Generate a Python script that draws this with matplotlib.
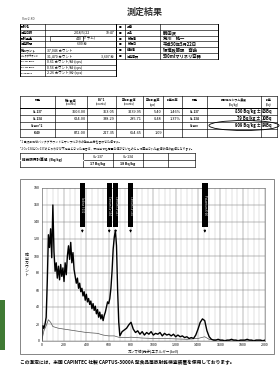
import matplotlib
matplotlib.use("Agg")
import matplotlib.pyplot as plt
from matplotlib.patches import Rectangle, Ellipse

plt.rcParams['font.family'] = ['Noto Sans CJK JP', 'DejaVu Sans']

# ---- data ----
info_labels = ["試料名", "測定日時", "試料重量", "測定時間", "総カウント", "バックグラウンド",
               "Cs-137 BG*1", "Cs-134 BG*1", "K-40 BG*1"]
info_values = ["", "2018/5/22", "440", "600 秒", "37,046 カウント", "31,470 カウント",
               "0.61 カウント/秒 (cps)", "0.56 カウント/秒 (cps)", "2.26 カウント/秒 (cps)"]
client_labels = ["品番", "品名", "依頼者", "依頼日", "担当者", "測定容器"]
client_values = ["", "鶴田沢", "荒川　純一", "平成30年5月22日", "環境政策課　齋藤", "500mlマリネリ容器"]

result_headers = [("核種", ""), ("総計数値", "(counts)"), ("BG*1", "(counts)"),
                  ("正味計数値", "(counts)"), ("正味計数率", "(cps)"), ("誤差比率", ""),
                  ("核種", ""), ("放射性セシウム濃度", "(Bq/kg)"), ("誤差", "(Bq)")]
nuclides = ["Cs-137", "Cs-134", "Cs合計*2", "K-40"]
total_counts = ["3603.00", "624.00", "", "872.00"]
bg_counts = ["363.05", "338.29", "", "217.35"]
net_counts = ["3239.95", "285.71", "", "654.65"]
net_rate = ["5.40", "0.48", "", "1.09"]
err_ratio = ["1.46%", "1.37%", "", ""]
conc_nuclide = ["Cs-137", "Cs-134", "Cs合計", ""]
conc_values = ["830 Bq/kg ±", "79 Bq/kg ±", "909 Bq/kg ±", ""]
conc_errors = ["83Bq", "10Bq", "84Bq", ""]

limit_nuclides = ["Cs-137", "Cs-134"]
limit_values = ["17 Bq/kg", "18 Bq/kg"]

sample_kev = list(range(0, 701, 10)) + list(range(720, 2001, 20))
sample_cnt = [0, 18, 15, 20, 28, 70, 125, 110, 132, 98, 160, 105, 82, 92, 74, 88, 72, 90, 76, 86,
              70, 92, 78, 100, 112, 96, 116, 92, 104, 84, 76, 68, 74, 62, 68, 58, 62, 53, 58, 48,
              55, 46, 50, 43, 47, 38, 44, 36, 41, 32, 37, 28, 34, 26, 31, 24, 30, 34, 40, 46,
              44, 50, 62, 82, 108, 122, 130, 112, 60, 22, 6,
              11, 13, 15, 19, 22, 14, 10, 12, 8, 11, 7, 10, 8, 11, 7, 9, 8, 10, 6, 9,
              7, 8, 6, 8, 5, 7, 5, 6, 4, 5, 3, 4, 3, 7, 14, 22, 26, 24, 12, 5,
              2, 1, 1, 2, 1, 1, 0, 1, 1, 2, 1, 1, 0, 1, 1, 1, 2, 1, 1, 0,
              1, 1, 1, 0, 1]
bg_kev = [0, 20, 40, 60, 80, 100, 150, 200, 250, 300, 350, 400, 450, 500, 550, 600, 650, 700,
          750, 800, 900, 1000, 1100, 1200, 1300, 1400, 1460, 1500, 1600, 1800, 2000]
bg_cnt = [0, 12, 18, 25, 22, 17, 15, 14, 13, 12, 11, 10, 9.5, 9, 7, 6, 6, 4,
          4, 4.5, 3.5, 3, 3, 2.5, 2, 3, 5, 2, 1, 1, 1]

marker_kev = [364, 605, 662, 796, 1461]
marker_names = ["Iodine I-131", "Cesium Cs-134", "Cesium Cs-137", "Cesium Cs-134", "Potassium K-40"]

FS = 2.5

fig = plt.figure(figsize=(2.8, 3.74), dpi=100)
page = fig.add_axes([0, 0, 1, 1])
page.set_xlim(0, 280)
page.set_ylim(374, 0)
page.axis("off")


def grid_box(xs, ys, lw=0.45):
    for x in xs:
        page.plot([x, x], [ys[0], ys[-1]], color="black", lw=lw)
    for y in ys:
        page.plot([xs[0], xs[-1]], [y, y], color="black", lw=lw)


page.text(145, 12, "測定結果", ha="center", va="center", fontsize=6.5, fontweight="bold",
          color="#333333")
page.text(22, 19, "Ver2.80", ha="left", va="center", fontsize=2.6, color="#444444")

# top-left table
row_h = 5.8
ys = [24 + row_h * i for i in range(10)]
grid_box([20, 45, 116], ys[:7])
grid_box([20, 45, 116], ys[6:])
page.plot([20, 20], [ys[0], ys[-1]], color="black", lw=0.7)
page.plot([116, 116], [ys[0], ys[-1]], color="black", lw=0.7)
for i, (lab, val) in enumerate(zip(info_labels, info_values)):
    yc = (ys[i] + ys[i + 1]) / 2
    lfs = 1.6 if len(lab) > 6 else 2.2
    page.text(21.2, yc, lab, ha="left", va="center", fontsize=lfs, fontweight="bold")
    if i in (1, 2, 3):
        page.text(82, yc, val, ha="right" if i == 2 else "center", va="center", fontsize=FS)
    else:
        page.text(47, yc, val, ha="left", va="center", fontsize=FS)
page.text(114, (ys[1] + ys[2]) / 2, "10:47", ha="right", va="center", fontsize=FS)
page.text(83, (ys[2] + ys[3]) / 2, "(グラム)", ha="left", va="center", fontsize=FS)
page.add_patch(Rectangle((50, ys[2] + 0.6), 33, row_h - 1.2, fill=False, lw=0.4))
page.text(114, (ys[5] + ys[6]) / 2, "3,607 秒", ha="right", va="center", fontsize=FS)

# top-right table
grid_box([116, 125, 160, 218], ys[:7])
page.plot([218, 218], [ys[0], ys[6]], color="black", lw=0.7)
for i, (lab, val) in enumerate(zip(client_labels, client_values)):
    yc = (ys[i] + ys[i + 1]) / 2
    page.text(120.5, yc, "◎", ha="center", va="center", fontsize=2.0)
    page.text(127, yc, lab, ha="left", va="center", fontsize=2.2, fontweight="bold")
    page.text(163, yc, val, ha="left", va="center", fontsize=3.1, fontweight="bold")

# result table
cx = [20, 55, 87, 116, 143, 163, 182, 207, 261, 277]
ry = [96, 108, 115, 122, 129, 137]
grid_box(cx, ry)
page.plot([cx[0], cx[-1]], [ry[1], ry[1]], color="black", lw=0.7)
for j, (h1, h2) in enumerate(result_headers):
    xc = (cx[j] + cx[j + 1]) / 2
    page.text(xc, 100, h1, ha="center", va="center", fontsize=2.1, fontweight="bold")
    if h2:
        page.text(xc, 104.5, h2, ha="center", va="center", fontsize=2.0)
cols = [total_counts, bg_counts, net_counts, net_rate, err_ratio]
for i, nuc in enumerate(nuclides):
    yc = (ry[i + 1] + ry[i + 2]) / 2
    page.text((cx[0] + cx[1]) / 2, yc, nuc, ha="center", va="center", fontsize=2.1,
              fontweight="bold")
    for j, col in enumerate(cols):
        page.text(cx[j + 2] - 1, yc, col[i], ha="right", va="center", fontsize=2.8)
    page.text((cx[6] + cx[7]) / 2, yc, conc_nuclide[i], ha="center", va="center",
              fontsize=2.1, fontweight="bold")
    page.text(cx[8] - 0.5, yc, conc_values[i], ha="right", va="center", fontsize=3.0,
              fontweight="bold")
    page.text(cx[8] + 0.5, yc, conc_errors[i], ha="left", va="center", fontsize=3.0,
              fontweight="bold")
page.add_patch(Ellipse((244, (ry[3] + ry[4]) / 2), 70, 10, fill=False, lw=0.6))

page.text(20, 141, "*1 自然放射線バックグラウンドとサンプルからの散乱成分を合わせた値です。",
          ha="left", va="center", fontsize=2.1)
page.text(20, 148, "*2 Cs-134とCs-137のどちらかが不検出となった場合は、未検出でも有意な値がないものとして"
          "算出された数値の値の数値となります。", ha="left", va="center", fontsize=2.1)

# detection limit table
lx = [20, 83, 113, 143, 168, 195]
ly = [153, 160, 167]
grid_box(lx, ly)
page.plot([lx[0] + 0.3, lx[1] - 0.3], [ly[1], ly[1]], color="white", lw=0.9)
page.text(22, 160, "検出限界計算値  (Bq/kg)", ha="left", va="center", fontsize=2.6,
          fontweight="bold")
for k, (nuc, val) in enumerate(zip(limit_nuclides, limit_values)):
    xc = (lx[k + 1] + lx[k + 2]) / 2
    page.text(xc, 156.5, nuc, ha="center", va="center", fontsize=2.5)
    page.text(xc, 163.5, val, ha="center", va="center", fontsize=2.5, fontweight="bold")

# chart frame and footer
page.add_patch(Rectangle((20, 179), 254, 175, fill=False, lw=0.5, color="#555555"))
page.text(20, 362, "この測定には、米国 CAPINTEC 社製 CAPTUS-3000A 型食品等放射能検査装置を使用しております。",
          ha="left", va="center", fontsize=3.4, fontweight="bold")
page.add_patch(Rectangle((0, 300), 5, 50, color="#3f7a34", lw=0))

# spectrum
ax = fig.add_axes([41.7 / 280, (374 - 341) / 374, (265 - 41.7) / 280, (341 - 188) / 374])
ax.set_xlim(0, 2000)
ax.set_ylim(0, 180)
ax.set_xticks(range(0, 2001, 200))
ax.set_xticks(range(0, 2001, 50), minor=True)
ax.set_yticks(range(0, 181, 20))
ax.grid(which="major", color="#777777", lw=0.35)
ax.grid(which="minor", axis="x", color="#aaaaaa", lw=0.25)
ax.tick_params(which="both", length=0, labelsize=2.6, pad=1.5)
for s in ax.spines.values():
    s.set_linewidth(0.4)
    s.set_color("#666666")
ax.plot(bg_kev, bg_cnt, color="#555555", lw=0.5)
ax.plot(sample_kev, sample_cnt, color="black", lw=1.0)
ax.set_xlabel("ガンマ線(光子)エネルギー(keV)", fontsize=2.6, labelpad=2.5)
ax.set_ylabel("\n".join("検出カウント"), fontsize=2.8, rotation=0, va="center", labelpad=5,
              linespacing=1.0)
ax.bar(marker_kev, 52, bottom=134, width=48, color="black", clip_on=False, zorder=5)
for kev, name in zip(marker_kev, marker_names):
    ax.annotate("", xy=(kev, 124), xytext=(kev, 134),
                arrowprops=dict(arrowstyle="-|>", lw=0.6, color="black", mutation_scale=3))
    ax.text(kev, 160, name, rotation=-90, ha="center", va="center", fontsize=2.0,
            color="white", zorder=6)

fig.savefig("out.png", dpi=100)
